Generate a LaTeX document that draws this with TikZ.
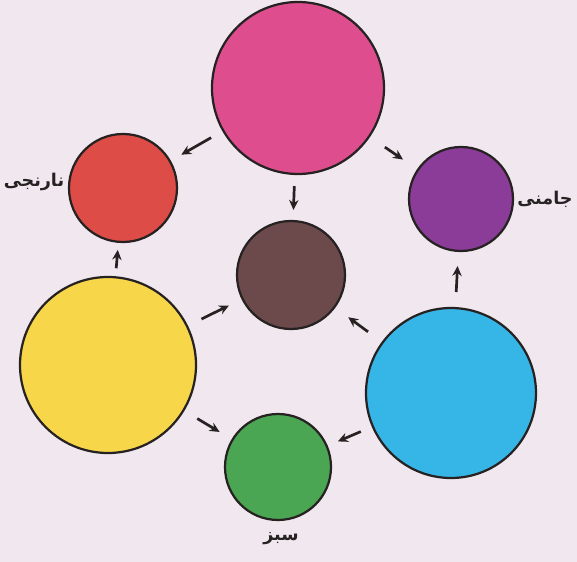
\documentclass[tikz,border=0pt]{standalone}
\usepackage{fontspec}
\usetikzlibrary{arrows.meta}
\TeXXeTstate=1
\newfontfamily\arabicfont[Script=Arabic]{DejaVu Sans}
\definecolor{bgc}{HTML}{F1E7EF}
\definecolor{cmag}{HTML}{DE4E8E}
\definecolor{corg}{HTML}{DE4C48}
\definecolor{cpur}{HTML}{8A3C98}
\definecolor{cbrn}{HTML}{6C4A4C}
\definecolor{cyel}{HTML}{F8D64A}
\definecolor{ccya}{HTML}{36B6E6}
\definecolor{cgrn}{HTML}{4AA652}
\definecolor{ink}{HTML}{262222}
\tikzset{
  disc/.style={circle, draw=ink, line width=1.9pt, inner sep=0pt},
  arr/.style={draw=ink, line width=2.3pt, -{Stealth[length=8.5pt,width=8pt]}},
  lbl/.style={font=\arabicfont\fontsize{15}{18}\selectfont\bfseries, text=ink, inner sep=0pt}
}
\begin{document}
\begin{tikzpicture}[x=0.03cm,y=-0.03cm]
\fill[bgc] (0,0) rectangle (577,562);
\useasboundingbox (0,0) rectangle (577,562);
\node[disc, fill=cmag, minimum size=172*0.03cm] (mag) at (298,88) {};
\node[disc, fill=corg, minimum size=108*0.03cm] (org) at (123,188) {};
\node[disc, fill=cpur, minimum size=104*0.03cm] (pur) at (461,199) {};
\node[disc, fill=cbrn, minimum size=108*0.03cm] (brn) at (291,275) {};
\node[disc, fill=cyel, minimum size=176*0.03cm] (yel) at (108,365) {};
\node[disc, fill=ccya, minimum size=170*0.03cm] (cya) at (451,393) {};
\node[disc, fill=cgrn, minimum size=106*0.03cm] (grn) at (278,467) {};
\node[lbl] (torg) at (34,182) {\beginR نارنجی\endR};
\node[lbl] (tpur) at (545,199) {\beginR جامنی\endR};
\node[lbl] (tgrn) at (281,539) {\beginR سبز\endR};
\draw[arr, shorten <=13*0.03cm, shorten >=12*0.03cm] (mag) -- (org);
\draw[arr, shorten <=18*0.03cm, shorten >=17*0.03cm] (mag) -- (pur);
\draw[arr, shorten <=11*0.03cm, shorten >=10*0.03cm] (mag) -- (brn);
\draw[arr, shorten <=8*0.03cm, shorten >=7*0.03cm] (yel) -- (org);
\draw[arr, shorten <=15*0.03cm, shorten >=14*0.03cm] (yel) -- (brn);
\draw[arr, shorten <=15*0.03cm, shorten >=14*0.03cm] (yel) -- (grn);
\draw[arr, shorten <=17*0.03cm, shorten >=16*0.03cm] (cya) -- (brn);
\draw[arr, shorten <=12*0.03cm, shorten >=11*0.03cm] (cya) -- (grn);
\draw[arr, shorten <=15*0.03cm, shorten >=14*0.03cm] (cya) -- (pur);
\end{tikzpicture}
\end{document}
